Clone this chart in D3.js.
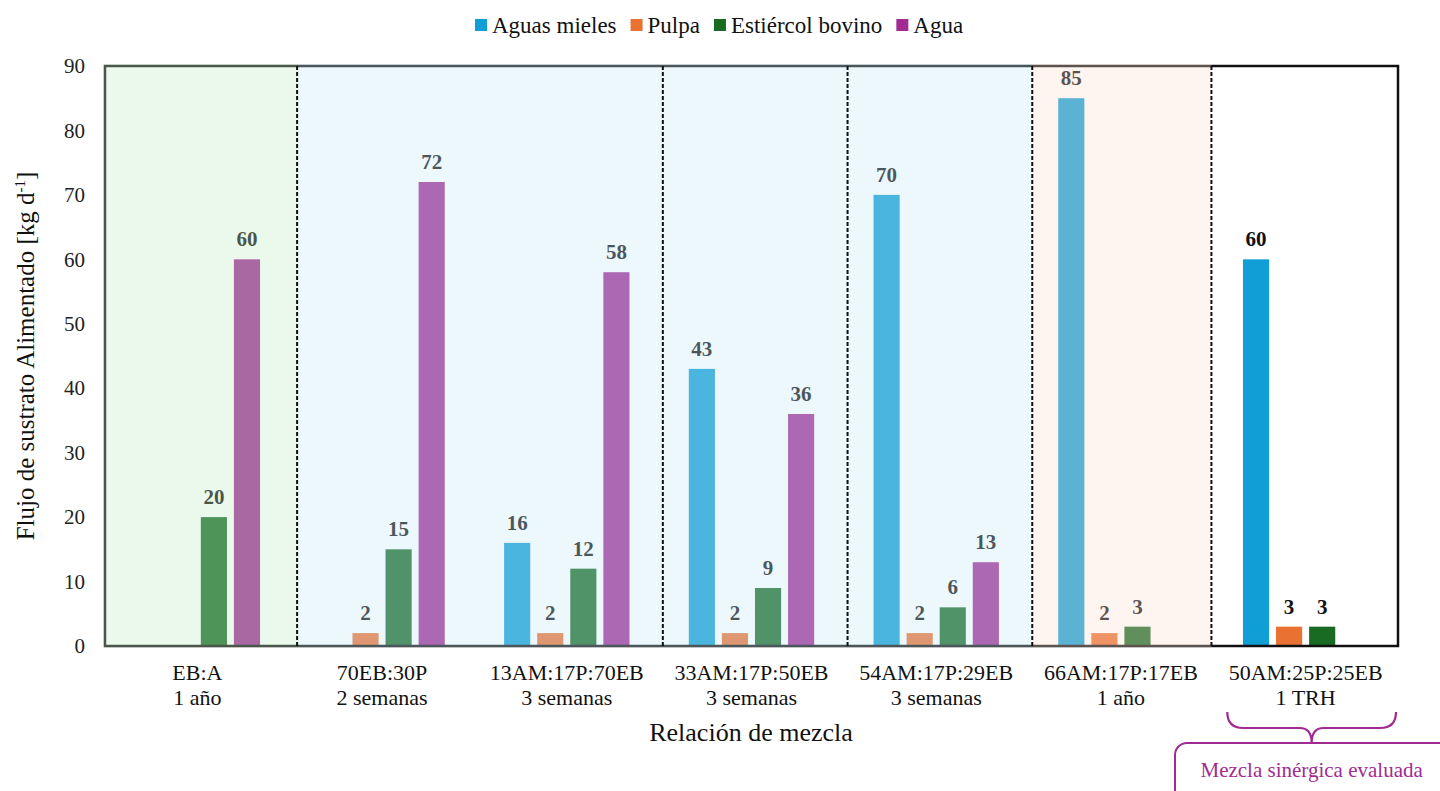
<!DOCTYPE html>
<html>
<head>
<meta charset="utf-8">
<script src="https://cdnjs.cloudflare.com/ajax/libs/d3/7.8.5/d3.min.js"></script>
<style>
  body { margin: 0; background: #fff; }
  svg text { font-family: "Liberation Serif", "Times New Roman", Tinos, "DejaVu Serif", serif; }
</style>
</head>
<body>
<div id="chart"></div>
<script>
var width = 1440, height = 791;
var serif = '"Liberation Serif", "Times New Roman", Tinos, "DejaVu Serif", serif';

// data
var categories = ["EB:A", "70EB:30P", "13AM:17P:70EB", "33AM:17P:50EB", "54AM:17P:29EB", "66AM:17P:17EB", "50AM:25P:25EB"];
var periods = ["1 año", "2 semanas", "3 semanas", "3 semanas", "3 semanas", "1 año", "1 TRH"];
var seriesNames = ["Aguas mieles", "Pulpa", "Estiércol bovino", "Agua"];
var seriesColors = ["#0f9ed5", "#e97132", "#196b24", "#a02b93"];
var aguasMieles = [null, null, 16, 43, 70, 85, 60];
var pulpa = [null, 2, 2, 2, 2, 2, 3];
var estiercol = [20, 15, 12, 9, 6, 3, 3];
var agua = [60, 72, 58, 36, 13, null, null];
var yTicks = [0, 10, 20, 30, 40, 50, 60, 70, 80, 90];

// shaded periods, in category units
var shadeFrom = [0, 1.04, 5.02];
var shadeTo = [1.04, 5.02, 5.99];
var shadeColors = ["#c0e9c3", "#c8eafa", "#fdded1"];
var dividers = [1.04, 3.02, 4.02, 5.02, 5.99];

var values = [aguasMieles, pulpa, estiercol, agua];

var margin = {top: 66, right: 42, bottom: 145, left: 105};
var plotW = width - margin.left - margin.right,
    plotH = height - margin.top - margin.bottom;

var svg = d3.select("#chart").append("svg")
    .attr("width", width)
    .attr("height", height)
    .attr("font-family", serif);

var g = svg.append("g")
    .attr("transform", "translate(" + margin.left + "," + margin.top + ")");

var x0 = d3.scaleBand()
    .domain(categories)
    .range([0, plotW]);

var xPos = d3.scaleLinear()
    .domain([0, categories.length])
    .range([0, plotW]);

var x1 = d3.scaleBand()
    .domain(seriesNames)
    .range([x0.bandwidth() / 2 - 66, x0.bandwidth() / 2 + 66])
    .paddingInner(0.21)
    .paddingOuter(0.1);

var y = d3.scaleLinear()
    .domain([0, 90])
    .range([plotH, 0]);

// bars
var rows = [];
categories.forEach(function (c, i) {
    seriesNames.forEach(function (s, j) {
        if (values[j][i] != null) {
            rows.push({cat: c, series: s, value: values[j][i], color: seriesColors[j]});
        }
    });
});

var bars = g.append("g").selectAll("g")
    .data(rows)
    .enter().append("g")
    .attr("transform", function (d) { return "translate(" + x0(d.cat) + ",0)"; });

bars.append("rect")
    .attr("x", function (d) { return x1(d.series); })
    .attr("y", function (d) { return y(d.value); })
    .attr("width", x1.bandwidth())
    .attr("height", function (d) { return plotH - y(d.value); })
    .attr("fill", function (d) { return d.color; });

bars.append("text")
    .attr("x", function (d) { return x1(d.series) + x1.bandwidth() / 2; })
    .attr("y", function (d) { return y(d.value) - 13; })
    .attr("text-anchor", "middle")
    .style("font-size", "21px")
    .style("font-weight", "bold")
    .attr("fill", "#111")
    .text(function (d) { return d.value; });

// frame
g.append("rect")
    .attr("x", 0).attr("y", 0)
    .attr("width", plotW).attr("height", plotH)
    .attr("fill", "none")
    .attr("stroke", "#111")
    .attr("stroke-width", 2.5);

// translucent shading over the earlier stages
g.append("g").selectAll("rect")
    .data(shadeFrom)
    .enter().append("rect")
    .attr("x", function (d, i) { return xPos(d) - (i === 0 ? 2 : 0); })
    .attr("y", -2)
    .attr("width", function (d, i) { return xPos(shadeTo[i]) - xPos(d) + (i === 0 ? 2 : 0); })
    .attr("height", plotH + 3)
    .attr("fill", function (d, i) { return shadeColors[i]; })
    .attr("fill-opacity", 0.32);

// dashed dividers between stages
g.append("g").selectAll("line")
    .data(dividers)
    .enter().append("line")
    .attr("x1", function (d) { return xPos(d); })
    .attr("x2", function (d) { return xPos(d); })
    .attr("y1", 0)
    .attr("y2", plotH)
    .attr("stroke", "#111")
    .attr("stroke-width", 2)
    .attr("stroke-dasharray", "4,2");

// y axis
var yAxis = g.append("g")
    .call(d3.axisLeft(y).tickValues(yTicks).tickSize(0).tickPadding(20));
yAxis.attr("font-family", serif);
yAxis.select(".domain").remove();
yAxis.selectAll("text")
    .style("font-family", serif)
    .style("font-size", "21px")
    .attr("fill", "#222");

// x axis labels (two lines)
var xl = g.append("g").selectAll("text")
    .data(categories)
    .enter().append("text")
    .attr("x", function (d) { return x0(d) + x0.bandwidth() / 2; })
    .attr("y", plotH + 34)
    .attr("text-anchor", "middle")
    .style("font-size", "22px")
    .attr("fill", "#111");
xl.append("tspan").text(function (d) { return d; });
xl.append("tspan")
    .attr("x", function (d) { return x0(d) + x0.bandwidth() / 2; })
    .attr("dy", 25)
    .text(function (d, i) { return periods[i]; });

// axis titles
svg.append("text")
    .attr("x", 751)
    .attr("y", 741)
    .attr("text-anchor", "middle")
    .style("font-size", "26px")
    .attr("fill", "#111")
    .text("Relación de mezcla");

var yt = svg.append("text")
    .attr("transform", "translate(34," + (margin.top + plotH / 2) + ") rotate(-90)")
    .attr("text-anchor", "middle")
    .style("font-size", "25px")
    .attr("fill", "#111");
yt.append("tspan").text("Flujo de sustrato Alimentado [kg d");
yt.append("tspan").attr("dy", -9).style("font-size", "15px").text("-1");
yt.append("tspan").attr("dy", 9).text("]");

// legend
var legend = svg.append("g").attr("transform", "translate(475,0)");
var lx = 0;
seriesNames.forEach(function (s, i) {
    var item = legend.append("g").attr("transform", "translate(" + lx + ",0)");
    item.append("rect")
        .attr("x", 0).attr("y", 19)
        .attr("width", 12).attr("height", 12)
        .attr("fill", seriesColors[i]);
    var t = item.append("text")
        .attr("x", 17).attr("y", 33)
        .style("font-size", "23px")
        .attr("fill", "#111")
        .text(s);
    lx += 17 + t.node().getComputedTextLength() + 14;
});

// annotation for the last group
var purple = "#a02b93";
var last = categories[categories.length - 1];
var bx0 = margin.left + x0(last) + 14,
    bx1 = margin.left + x0(last) + x0.bandwidth() - 2,
    bmid = (bx0 + bx1) / 2,
    by0 = 712, by1 = 728, by2 = 743;

svg.append("path")
    .attr("d", "M" + bx0 + "," + by0
        + "Q" + bx0 + "," + by1 + " " + (bx0 + 16) + "," + by1
        + "L" + (bmid - 12) + "," + by1
        + "Q" + bmid + "," + by1 + " " + bmid + "," + by2
        + "Q" + bmid + "," + by1 + " " + (bmid + 12) + "," + by1
        + "L" + (bx1 - 16) + "," + by1
        + "Q" + bx1 + "," + by1 + " " + bx1 + "," + by0)
    .attr("fill", "none")
    .attr("stroke", purple)
    .attr("stroke-width", 2.2);

svg.append("rect")
    .attr("x", 1175)
    .attr("y", by2)
    .attr("width", 300)
    .attr("height", 100)
    .attr("rx", 12)
    .attr("fill", "none")
    .attr("stroke", purple)
    .attr("stroke-width", 2);

svg.append("text")
    .attr("x", bmid)
    .attr("y", 777)
    .attr("text-anchor", "middle")
    .style("font-size", "21px")
    .attr("fill", purple)
    .text("Mezcla sinérgica evaluada");
</script>
</body>
</html>
